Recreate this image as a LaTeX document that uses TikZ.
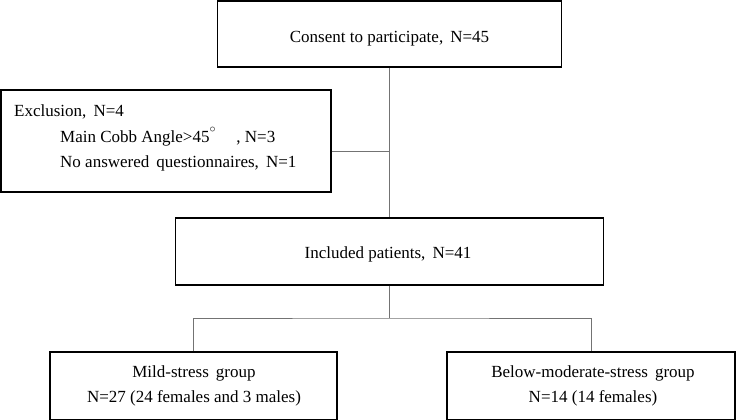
\documentclass[tikz,border=0pt]{standalone}
\usepackage{fontspec}
\setmainfont{Liberation Serif}
\begin{document}
\begin{tikzpicture}[x=1pt,y=-1pt,
  box/.style={draw=black,line width=1.3pt,inner sep=0pt,anchor=center},
  link/.style={draw=black!55,line width=0.9pt},
  lbl/.style={font=\fontsize{17}{20}\selectfont,inner sep=0pt}]
\useasboundingbox[fill=white] (0,0) rectangle (736,420);
\node[box,minimum width=344pt,minimum height=66pt] (top) at (389.5,34) {};
\node[lbl] (toptext) at (389.5,39) {Consent to participate,\, N=45};
\node[box,minimum width=330pt,minimum height=102pt] (excl) at (166,141) {};
\node[lbl,anchor=west] (e1) at (14,112) {Exclusion,\, N=4};
\node[lbl,anchor=west] (e2) at (60,137) {Main Cobb Angle>45\raisebox{0.5ex}{$^{\circ}$}\hspace{1.2em}, N=3};
\node[lbl,anchor=west] (e3) at (60,163) {No answered\, questionnaires,\, N=1};
\node[box,minimum width=428pt,minimum height=67pt] (incl) at (389.5,251.5) {};
\node[lbl] (incltext) at (388,254) {Included patients,\, N=41};
\node[box,minimum width=287pt,minimum height=68pt] (mild) at (193.5,386) {};
\node[lbl] (m1) at (194,373) {Mild-stress\, group};
\node[lbl] (m2) at (194,398) {N=27 (24 females and 3 males)};
\node[box,minimum width=288pt,minimum height=68pt] (below) at (591,386) {};
\node[lbl] (b1) at (593,373) {Below-moderate-stress\, group};
\node[lbl] (b2) at (593,398) {N=14 (14 females)};
\coordinate (j1) at (389.5,151);
\coordinate (j2) at (389.5,318);
\draw[link] (top.south) -- (incl.north);
\draw[link] (excl.east |- j1) -- (j1);
\draw[link] (incl.south) -- (j2);
\draw[link] (mild.north) |- (j2) -| (below.north);
\end{tikzpicture}
\end{document}
